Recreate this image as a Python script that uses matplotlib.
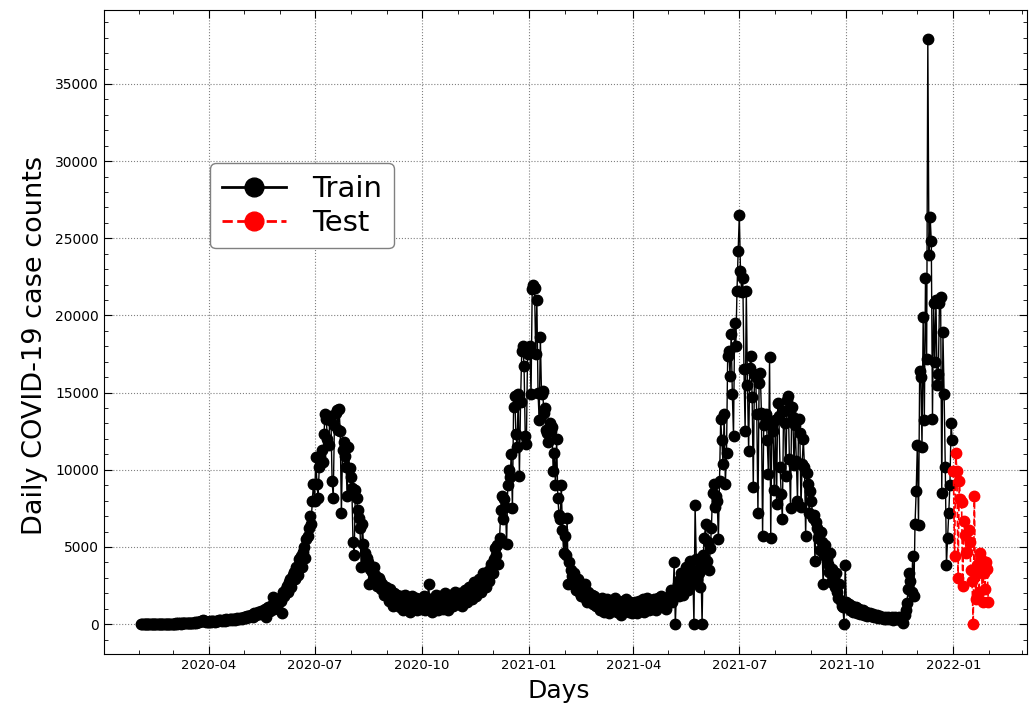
import matplotlib
matplotlib.use('Agg')
import matplotlib.pyplot as plt
import matplotlib.dates as mdates
import pandas as pd

# daily case counts, train period starts 2020-02-03
feb20 = [2, 0, 1, 3, 0, 5, 1, 2, 0, 4, 3, 1, 0, 6, 2, 8, 3, 5, 10, 4, 12, 9, 15, 11, 20, 14, 25]
mar20 = [30, 22, 35, 40, 28, 45, 50, 38, 60, 55, 48, 70, 65, 80, 60, 90, 85, 75, 100, 110, 95, 130, 120, 150, 170,
         210, 260, 230, 190, 160, 140]
apr20 = [150, 170, 130, 180, 200, 160, 210, 230, 190, 250, 240, 200, 270, 260, 220, 300, 280, 240, 320, 310,
         260, 350, 330, 290, 380, 360, 310, 420, 400, 350]
may20 = [450, 430, 380, 520, 500, 440, 600, 580, 480, 700, 660, 560, 780, 750, 640, 880, 840, 700, 980, 475,
         760, 1100, 1050, 880, 1250, 1770, 980, 1400, 1350, 1100, 1550]
jun20 = [1700, 1500, 700, 2100, 1800, 2300, 2500, 2100, 2700, 2900, 2400, 3200, 3400, 2900, 3700, 3600, 3200,
         4200, 4400, 3700, 4700, 5000, 4300, 5500, 5700, 6200, 7000, 6500, 8000, 9100]
jul20 = [8000, 10800, 9100, 8200, 10200, 10900, 11300, 10500, 12300, 13600, 13300, 12000, 11600, 13200, 13500,
         9300, 8200, 12900, 13700, 13900, 12600, 13950, 12500, 7200, 11300, 11800, 10900, 10200, 8300, 11500, 10100]
aug20 = [9500, 8800, 5300, 4500, 8700, 8200, 7400, 6900, 6200, 3700, 6500, 5200, 4600, 3900, 4300, 4000, 2600,
         3600, 3400, 2900, 3700, 3200, 2700, 2500, 3000, 2800, 2300, 2600, 2200, 1900, 2400]
sep20 = [2100, 1800, 1500, 2300, 1700, 1200, 2000, 1600, 1300, 1900, 1500, 1100, 1800, 1400, 900, 1700, 1900,
         1200, 1600, 1000, 800, 1500, 1800, 1300, 1100, 1700, 900, 1400, 1600, 1000]
oct20 = [1200, 1500, 1800, 900, 1100, 1700, 2600, 1400, 1000, 800, 1600, 1300, 1900, 1100, 900, 1500, 1800,
         1200, 1000, 1700, 2000, 1400, 1100, 900, 1600, 1900, 1300, 1200, 1800, 2100, 1500]
nov20 = [1300, 1700, 2000, 1500, 1200, 1900, 2200, 1700, 1400, 2100, 2400, 1800, 1600, 2300, 2700, 2000, 1800,
         2600, 2900, 2300, 2100, 3000, 3300, 2600, 2400, 3400, 3200, 2800, 3600, 3900]
dec20 = [3300, 4200, 4900, 4500, 5100, 3900, 5600, 7400, 8300, 6800, 8100, 7600, 5200, 9000, 10000, 9500,
         11000, 7500, 14100, 14800, 12300, 11500, 14900, 9600, 14400, 17700, 18000, 16700, 12200, 11700, 17500]
jan21 = [17900, 18000, 14900, 21700, 22000, 21800, 17500, 21000, 15000, 13200, 18600, 14900, 15100, 13700,
         14000, 12600, 12400, 11800, 13000, 12500, 12800, 9900, 11100, 9000, 12000, 8200, 7100, 6800, 9000,
         6100, 4600]
feb21 = [5700, 4500, 6900, 2600, 4000, 3500, 3100, 2700, 3300, 2500, 2200, 2900, 2400, 2000, 1800, 2300, 1900,
         2600, 1600, 1400, 2100, 1700, 1500, 1900, 1300, 1800, 1400, 1200]
mar21 = [1500, 1100, 900, 1400, 1700, 1000, 800, 1300, 1600, 1100, 700, 1200, 1500, 900, 1300, 1700, 1000, 800,
         1400, 1200, 600, 1100, 1500, 900, 1300, 1600, 1000, 800, 1400, 1200, 700]
apr21 = [1100, 1400, 900, 700, 1300, 1500, 1000, 1200, 1600, 800, 1100, 1400, 1700, 900, 1200, 1500, 1000,
         1300, 1600, 900, 1400, 1700, 1100, 1300, 1800, 1200, 1500, 1700, 1000, 1400]
may21 = [1600, 1900, 2200, 1400, 1800, 4000, 0, 2100, 2600, 1800, 2900, 3300, 2300, 1900, 3100, 3700, 2500,
         2200, 3400, 4100, 2800, 3500, 0, 7700, 4200, 2900, 3300, 2400, 3800, 0, 4500]
jun21 = [5600, 6500, 4100, 5300, 3500, 4900, 6200, 8500, 9100, 7600, 8300, 8000, 5500, 9300, 13300, 11900,
         10400, 13600, 9100, 11100, 17400, 17700, 16100, 18800, 14900, 12200, 19500, 18000, 21600, 24200]
jul21 = [26500, 22900, 21500, 22400, 16500, 12500, 21600, 15500, 11200, 16600, 17400, 14700, 8900, 16200,
         16000, 13600, 7200, 15600, 16300, 13700, 5700, 12900, 13400, 13600, 11900, 9700, 17300, 5600, 13000,
         12500, 8700]
aug21 = [13200, 7800, 14300, 13500, 10200, 8400, 6800, 13800, 13000, 9600, 14500, 14800, 10700, 7500, 14100,
         13400, 10300, 12900, 10600, 8000, 13300, 12400, 7600, 10400, 12000, 10200, 5700, 9800, 9100, 7200, 8600]
sep21 = [8000, 6900, 7100, 4100, 6600, 6200, 5600, 4800, 6000, 5300, 2600, 4500, 5100, 4200, 3900, 3400, 4600,
         2700, 3600, 2900, 2400, 3300, 2100, 1700, 2600, 1500, 1200, 1100, 0, 3800]
oct21 = [1400, 1100, 1300, 900, 1000, 1200, 800, 900, 1100, 700, 800, 1000, 650, 700, 900, 600, 650, 800, 550,
         600, 700, 500, 550, 650, 450, 500, 600, 400, 450, 550, 380]
nov21 = [420, 350, 480, 300, 380, 450, 320, 400, 470, 290, 360, 430, 310, 390, 460, 280, 350, 420, 100, 600,
         900, 1350, 2250, 3300, 2800, 2100, 4400, 1800, 6500, 8600]
dec21 = [11600, 6400, 16400, 16000, 11500, 19900, 13200, 22400, 17200, 37900, 23900, 26400, 24800, 13300,
         20800, 17000, 21000, 15500, 16200, 20800, 21200, 8500, 18900, 14900, 10200, 3800, 5600, 7200, 9000,
         13000, 11900]

# test period, January 2022
jan22 = [9900, 4400, 11100, 9900, 3000, 9300, 8100, 7900, 2500, 6700, 5800, 4600, 4700, 6100, 5300, 3500, 2800,
         0, 8300, 1600, 3800, 3300, 2100, 4600, 4200, 1400, 3300, 2300, 4000, 3600, 1400]

train_vals = (feb20 + mar20 + apr20 + may20 + jun20 + jul20 + aug20 + sep20 + oct20 + nov20 + dec20 +
              jan21 + feb21 + mar21 + apr21 + may21 + jun21 + jul21 + aug21 + sep21 + oct21 + nov21 + dec21)
test_vals = jan22
train_days = pd.date_range('2020-02-03', periods=len(train_vals), freq='D')
test_days = pd.date_range('2022-01-01', periods=len(test_vals), freq='D')

fig, ax = plt.subplots(figsize=(10.35, 7.08), dpi=100)
fig.subplots_adjust(left=0.1005, right=0.992, top=0.986, bottom=0.076)

ax.plot(train_days, train_vals, color='black', marker='o', markersize=7.5, linewidth=1, label='Train')
ax.plot(test_days, test_vals, color='red', linestyle='--', marker='o', markersize=7.5, linewidth=1.2,
        label='Test')

ax.set_xlim(pd.Timestamp('2020-01-02'), pd.Timestamp('2022-03-05'))
ax.set_ylim(-1950, 39800)

ax.xaxis.set_major_locator(mdates.MonthLocator(bymonth=[1, 4, 7, 10]))
ax.xaxis.set_minor_locator(mdates.MonthLocator())
ax.xaxis.set_major_formatter(mdates.DateFormatter('%Y-%m'))
ax.yaxis.set_major_locator(plt.MultipleLocator(5000))
ax.yaxis.set_minor_locator(plt.MultipleLocator(1000))

ax.tick_params(which='both', direction='in', top=True, right=True)
ax.tick_params(which='major', length=6)
ax.tick_params(axis='y', labelsize=10)
ax.tick_params(axis='x', labelsize=9.5)
ax.tick_params(which='minor', length=3)
ax.grid(True, which='major', linestyle=':', color='gray', linewidth=0.8)

ax.set_xlabel('Days', fontsize=18, labelpad=5)
ax.set_ylabel('Daily COVID-19 case counts', fontsize=19.5, labelpad=5)
ax.xaxis.label.set_x(0.493)
ax.yaxis.label.set_y(0.48)

leg = ax.legend(loc='upper left', bbox_to_anchor=(0.115, 0.762), borderaxespad=0, fontsize=21,
                markerscale=1.8, handlelength=2.2, handletextpad=0.9, labelspacing=0.2, borderpad=0.4,
                edgecolor='gray', framealpha=1)
for line in leg.get_lines():
    line.set_linewidth(2)

plt.savefig('out.png', dpi=100)
